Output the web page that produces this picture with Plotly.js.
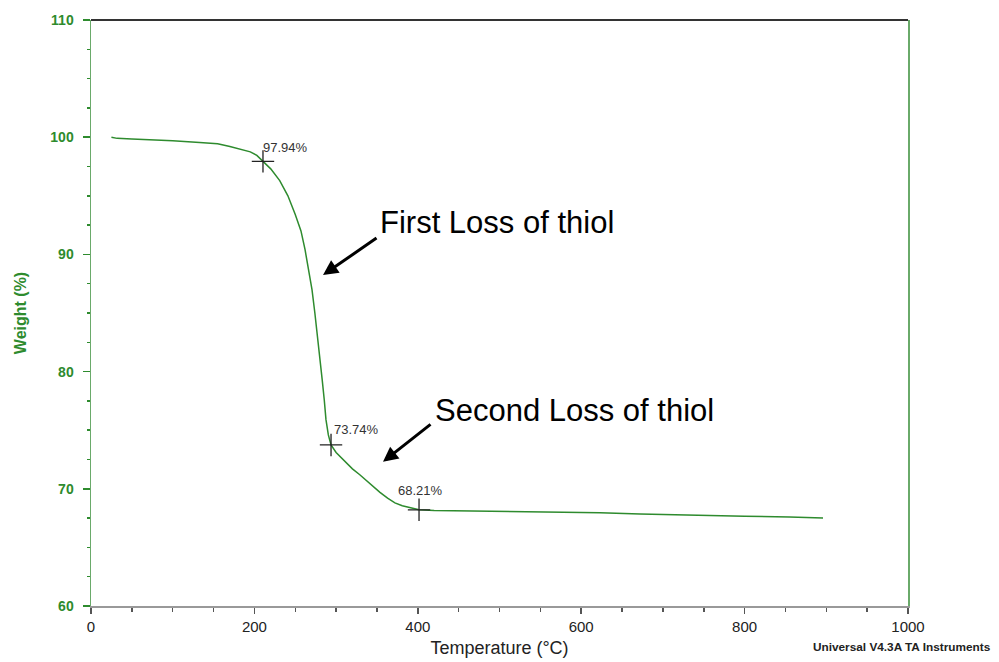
<!DOCTYPE html>
<html>
<head>
<meta charset="utf-8">
<script src="https://cdn.plot.ly/plotly-3.0.1.min.js"></script>
<style>
  html, body { margin: 0; padding: 0; background: #fff; }
  #chart { width: 999px; height: 662px; }
</style>
</head>
<body>
<div id="chart"></div>
<script>
// TGA curve: temperature (°C) vs weight (%)
const temperature = [25, 32, 50, 72, 100, 133, 155, 170, 185, 195, 203, 210.5, 220, 231, 241, 250, 257, 262, 266, 270.5, 274, 278, 281, 283, 285.5, 287.6, 290.5, 293.8, 300, 311, 320, 329, 340, 353.7, 363, 372, 381, 390, 401.5, 420, 464, 520, 600, 623, 672, 700, 745, 800, 855, 896];
const weight      = [100.0, 99.9, 99.85, 99.8, 99.7, 99.55, 99.45, 99.2, 98.95, 98.75, 98.45, 97.94, 97.3, 96.3, 95.0, 93.4, 92.0, 90.4, 88.9, 87.0, 85.0, 82.7, 80.9, 79.3, 77.6, 75.9, 74.6, 73.74, 73.1, 72.3, 71.7, 71.2, 70.5, 69.7, 69.2, 68.8, 68.55, 68.4, 68.21, 68.15, 68.1, 68.05, 68.0, 67.95, 67.85, 67.8, 67.7, 67.65, 67.6, 67.5];

// Marked analysis points
const markTemp   = [210.5, 293.8, 401.5];
const markWeight = [97.94, 73.74, 68.21];
const markLabels = ["97.94%", "73.74%", "68.21%"];

// Axis ticks
const xTicks = [0, 200, 400, 600, 800, 1000];
const yTicks = [60, 70, 80, 90, 100, 110];

const green = "#2e8b2e";
const font = "Liberation Sans, Arial, sans-serif";

const traces = [
  {
    x: temperature, y: weight, type: "scatter", mode: "lines",
    line: { color: green, width: 1.5 }, hoverinfo: "skip", showlegend: false
  },
  {
    x: markTemp, y: markWeight, type: "scatter", mode: "markers",
    marker: { symbol: "cross-thin", size: 16, line: { color: "#222", width: 1.3 } },
    hoverinfo: "skip", showlegend: false
  }
];

const labelShift = [[-2, 4], [1, 6], [-23, 10]];
const annotations = markLabels.map((t, i) => ({
  x: markTemp[i], y: markWeight[i], xref: "x", yref: "y",
  text: t, showarrow: false, xanchor: "left", yanchor: "bottom",
  xshift: labelShift[i][0], yshift: labelShift[i][1],
  font: { family: font, size: 13, color: "#333" }
}));

annotations.push(
  { x: 351.3, y: 92.76, xref: "x", yref: "y", text: "First Loss of thiol", showarrow: false,
    xanchor: "left", yanchor: "middle", font: { family: font, size: 31, color: "#000" } },
  { x: 418.6, y: 76.7, xref: "x", yref: "y", text: "Second Loss of thiol", showarrow: false,
    xanchor: "left", yanchor: "middle", font: { family: font, size: 31, color: "#000" } },
  { x: 284, y: 88.24, xref: "x", yref: "y", ax: 351.3, ay: 91.48, axref: "x", ayref: "y",
    text: "", showarrow: true, arrowhead: 2, arrowsize: 1, arrowwidth: 3, arrowcolor: "#000" },
  { x: 357.4, y: 72.3, xref: "x", yref: "y", ax: 417.4, ay: 75.6, axref: "x", ayref: "y",
    text: "", showarrow: true, arrowhead: 2, arrowsize: 1, arrowwidth: 3, arrowcolor: "#000" },
  { x: 1, y: 0, xref: "paper", yref: "paper", text: "<b>Universal V4.3A TA Instruments</b>",
    showarrow: false, xanchor: "left", yanchor: "top", xshift: -97, yshift: -32,
    font: { family: font, size: 11.8, color: "#222" } }
);

const layout = {
  width: 999, height: 662,
  margin: { l: 91, r: 91, t: 20, b: 56 },
  paper_bgcolor: "#fff", plot_bgcolor: "#fff",
  showlegend: false,
  xaxis: {
    range: [0, 1000], tickvals: xTicks, ticktext: xTicks.map(String),
    showgrid: false, zeroline: false,
    showline: true, linecolor: "#999", linewidth: 1.5,
    ticks: "outside", ticklen: 6, tickcolor: "#555", tickwidth: 1.5,
    minor: { dtick: 50, ticks: "outside", ticklen: 4, tickcolor: "#555", tickwidth: 1.5 },
    tickfont: { family: font, size: 15, color: "#222" },
    title: { text: "Temperature (°C)", font: { family: font, size: 18, color: "#222" }, standoff: 8 }
  },
  yaxis: {
    range: [60, 110], tickvals: yTicks, ticktext: yTicks.map(String),
    showgrid: false, zeroline: false,
    showline: true, linecolor: "#6aaa6a", linewidth: 1.5, mirror: true,
    ticks: "outside", ticklen: 7, tickcolor: green, tickwidth: 1.5,
    ticklabelstandoff: 6,
    minor: { dtick: 2.5, ticks: "outside", ticklen: 3, tickcolor: green, tickwidth: 1.5 },
    tickfont: { family: font, size: 14, color: green, weight: "bold" },
    title: { text: "<b>Weight (%)</b>", font: { family: font, size: 16, color: green }, standoff: 19 }
  },
  shapes: [
    { type: "line", xref: "paper", yref: "paper", x0: 0, x1: 1, y0: 1, y1: 1,
      line: { color: "#333", width: 2 } }
  ],
  annotations: annotations
};

Plotly.newPlot("chart", traces, layout, { displayModeBar: false, staticPlot: true });
</script>
</body>
</html>
